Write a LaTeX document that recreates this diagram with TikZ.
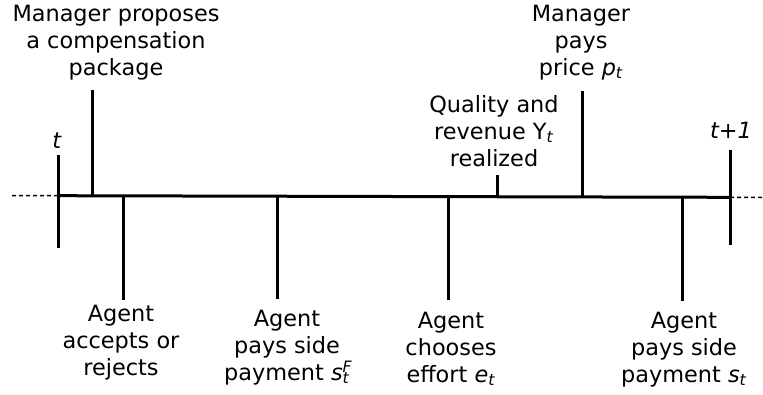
\documentclass[tikz,border=0pt]{standalone}
\usepackage{fontspec}
\setmainfont{DejaVu Sans}
\newcommand{\isub}[1]{\textsubscript{\textit{#1}}}
\begin{document}
\begin{tikzpicture}[x=1pt,y=-1pt,
  lbl/.style={align=center,inner sep=0pt,font=\fontsize{22.4}{27}\selectfont,anchor=base},
  bar/.style={line width=3pt},
  axis/.style={line width=3pt},
  dots/.style={line width=1.5pt,dash pattern=on 4pt off 3pt}]
\useasboundingbox (0,0) rectangle (763,394);
% timeline
\coordinate (L0) at (12,195.5);
\coordinate (T0) at (58,195.7);
\coordinate (T1) at (730,197.3);
\coordinate (R0) at (762,197.5);
\draw[dots] (L0) -- (T0);
\draw[axis] (T0) -- (T1);
\draw[dots] (T1) -- (R0);
% period ticks
\coordinate (tA) at (58,155); \coordinate (tB) at (58,248);
\draw[bar] (tA) -- (tB);
\coordinate (uA) at (730,150); \coordinate (uB) at (730,245);
\draw[bar] (uA) -- (uB);
% event ticks
\coordinate (m1) at (92,195.8);  \coordinate (m1e) at (92,90);
\coordinate (a1) at (123,196.0); \coordinate (a1e) at (123,300);
\coordinate (a2) at (277,196.2); \coordinate (a2e) at (277,299);
\coordinate (a3) at (448,196.6); \coordinate (a3e) at (448,300);
\coordinate (q1) at (497,196.7); \coordinate (q1e) at (497,175);
\coordinate (m2) at (582,196.9); \coordinate (m2e) at (582,91);
\coordinate (a4) at (682,197.2); \coordinate (a4e) at (682,301);
\foreach \p in {m1,a1,a2,a3,q1,m2,a4} \draw[bar] (\p) -- (\p e);
% labels (anchor base = baseline of last line)
\node[lbl] (lt) at (57,148) {\textit{t}};
\node[lbl] (lt1) at (731,138) {\textit{t+1}};
\node[lbl] (lm1) at (116,75) {Manager proposes\\a compensation\\package};
\node[lbl] (lm2) at (581,75) {Manager\\pays\\price \textit{p}\isub{t}};
\node[lbl] (lq) at (494,166) {Quality and\\revenue Y\isub{t}\\realized};
\node[lbl] (la1) at (121,375) {Agent\\accepts or\\rejects};
\node[lbl] (la2) at (287,380) {Agent\\pays side\\payment \textit{s}\rlap{\textsuperscript{\textit{F}}}\isub{t}};
\node[lbl] (la3) at (451,382) {Agent\\chooses\\effort \textit{e}\isub{t}};
\node[lbl] (la4) at (684,382) {Agent\\pays side\\payment \textit{s}\isub{t}};
\end{tikzpicture}
\end{document}
